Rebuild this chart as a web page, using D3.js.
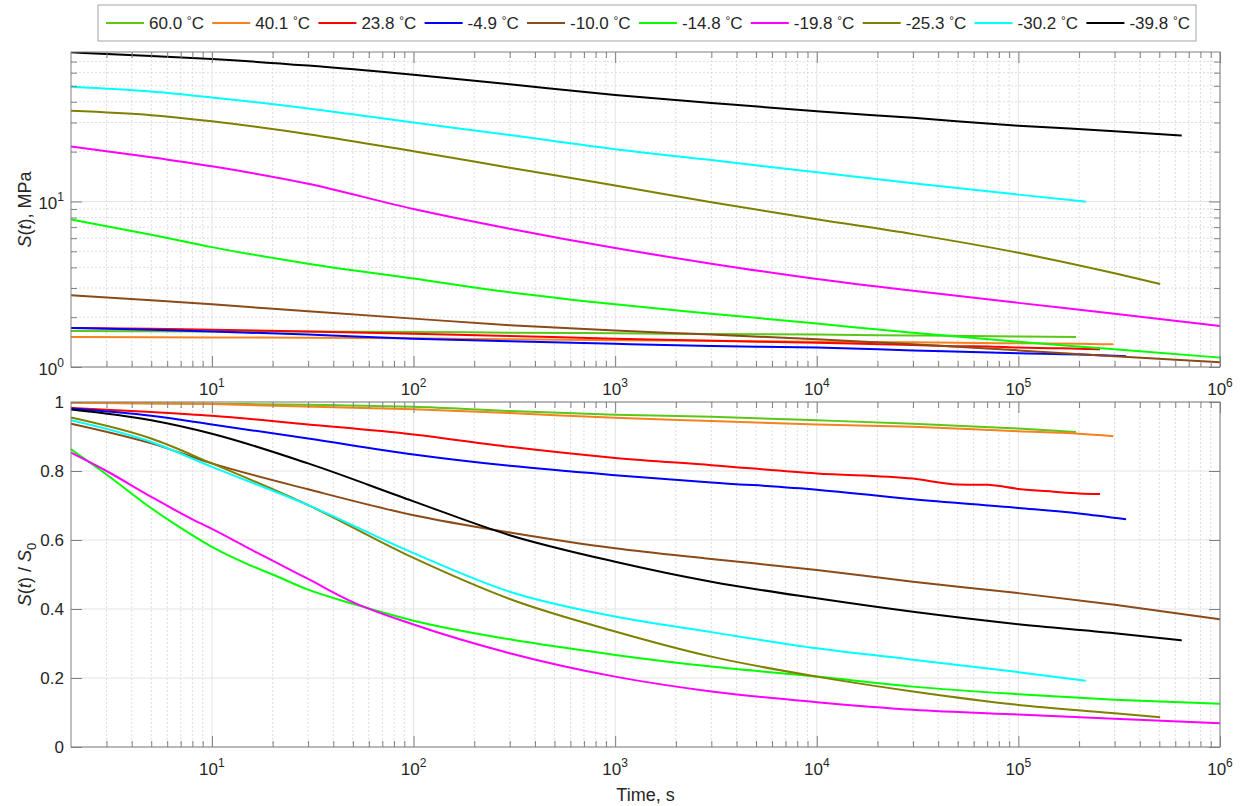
<!DOCTYPE html>
<html>
<head>
<meta charset="utf-8">
<script src="https://cdn.jsdelivr.net/npm/d3@7"></script>
<style>
body { margin: 0; background: #fff; }
svg text { font-family: "Liberation Sans", Arial, Helvetica, sans-serif; fill: #262626; }
</style>
</head>
<body>
<div id="chart"></div>
<script>
// legend labels (deg C) and line colours
var tempLabels = ["60.0", "40.1", "23.8", "-4.9", "-10.0", "-14.8", "-19.8", "-25.3", "-30.2", "-39.8"];
var lineColors = ["#5bc818", "#f5821f", "#ff0000", "#0000ff", "#8b4a16", "#00ff00", "#ff00ff", "#808000", "#00ffff", "#000000"];

// time, s for the S(t) curves (one array per test)
var timeS = [
    [2, 10, 100, 300, 1e3, 3e3, 1e4, 3e4, 1e5, 1.93e5],
    [2, 10, 100, 300, 1e3, 3e3, 1e4, 3e4, 1e5, 2e5, 2.96e5],
    [2, 5, 10, 30, 100, 300, 1e3, 3e3, 1e4, 3e4, 5e4, 7e4, 1e5, 1.5e5, 2e5, 2.54e5],
    [2, 5, 10, 30, 100, 300, 1e3, 3e3, 1e4, 3e4, 1e5, 2e5, 3.42e5],
    [2, 5, 10, 30, 100, 300, 1e3, 3e3, 1e4, 3e4, 1e5, 3e5, 1e6],
    [2, 5, 10, 30, 100, 300, 1e3, 3e3, 1e4, 3e4, 1e5, 3e5, 1e6],
    [2, 5, 10, 30, 100, 300, 1e3, 3e3, 1e4, 3e4, 1e5, 3e5, 1e6],
    [2, 5, 10, 30, 100, 300, 1e3, 3e3, 1e4, 3e4, 1e5, 3e5, 5.05e5],
    [2, 5, 10, 30, 100, 300, 1e3, 3e3, 1e4, 3e4, 1e5, 2.16e5],
    [2, 5, 10, 30, 100, 300, 1e3, 3e3, 1e4, 3e4, 1e5, 3e5, 6.46e5]
];

// S(t), MPa
var seriesS = [
    [1.65, 1.64, 1.63, 1.61, 1.60, 1.58, 1.57, 1.55, 1.53, 1.52],
    [1.52, 1.51, 1.49, 1.47, 1.45, 1.44, 1.42, 1.41, 1.39, 1.38, 1.37],
    [1.72, 1.70, 1.68, 1.64, 1.59, 1.54, 1.48, 1.44, 1.40, 1.36, 1.335, 1.33, 1.31, 1.30, 1.29, 1.28],
    [1.72, 1.68, 1.64, 1.57, 1.48, 1.43, 1.38, 1.34, 1.31, 1.26, 1.21, 1.19, 1.16],
    [2.71, 2.53, 2.39, 2.17, 1.96, 1.79, 1.66, 1.57, 1.47, 1.37, 1.26, 1.16, 1.07],
    [7.79, 6.30, 5.30, 4.21, 3.42, 2.83, 2.39, 2.10, 1.83, 1.61, 1.42, 1.28, 1.14],
    [21.5, 18.5, 16.3, 12.8, 9.0, 6.84, 5.23, 4.21, 3.40, 2.89, 2.44, 2.10, 1.77],
    [35.3, 33.2, 30.5, 25.5, 20.1, 16.0, 12.5, 9.9, 7.8, 6.35, 4.9, 3.68, 3.17],
    [49.4, 46.2, 42.5, 36.5, 30.0, 25.2, 20.7, 17.8, 15.0, 12.9, 11.0, 9.97],
    [79.6, 75.7, 72.6, 66.2, 58.2, 51.0, 44.0, 39.4, 35.1, 32.0, 28.7, 26.6, 25.0]
];

// time, s for the S(t)/S0 curves
var timeRatio = [
    [2, 10, 100, 300, 1e3, 3e3, 1e4, 3e4, 1e5, 1.93e5],
    [2, 10, 100, 300, 1e3, 3e3, 1e4, 3e4, 1e5, 2e5, 2.96e5],
    [2, 5, 10, 30, 100, 300, 1e3, 3e3, 1e4, 3e4, 5e4, 7e4, 1e5, 1.5e5, 2e5, 2.54e5],
    [2, 5, 10, 30, 100, 300, 1e3, 3e3, 1e4, 3e4, 1e5, 2e5, 3.42e5],
    [2, 5, 10, 30, 100, 300, 1e3, 3e3, 1e4, 3e4, 1e5, 3e5, 1e6],
    [2, 3, 5, 7, 10, 15, 20, 30, 50, 100, 300, 1e3, 3e3, 1e4, 3e4, 1e5, 3e5, 1e6],
    [2, 3, 5, 8, 10, 15, 20, 30, 50, 100, 300, 1e3, 3e3, 1e4, 3e4, 1e5, 3e5, 1e6],
    [2, 5, 10, 30, 100, 300, 1e3, 3e3, 1e4, 3e4, 1e5, 3e5, 5.05e5],
    [2, 5, 10, 30, 100, 300, 1e3, 3e3, 1e4, 3e4, 1e5, 2.16e5],
    [2, 5, 10, 30, 100, 300, 1e3, 3e3, 1e4, 3e4, 1e5, 3e5, 6.46e5]
];

// S(t) / S0
var seriesRatio = [
    [0.998, 0.995, 0.986, 0.974, 0.963, 0.957, 0.947, 0.937, 0.923, 0.913],
    [0.998, 0.994, 0.979, 0.968, 0.954, 0.945, 0.935, 0.928, 0.915, 0.908, 0.901],
    [0.983, 0.971, 0.960, 0.935, 0.906, 0.870, 0.838, 0.817, 0.793, 0.778, 0.761, 0.760, 0.748, 0.740, 0.735, 0.733],
    [0.981, 0.960, 0.935, 0.894, 0.848, 0.815, 0.788, 0.767, 0.746, 0.718, 0.693, 0.677, 0.660],
    [0.937, 0.880, 0.822, 0.747, 0.672, 0.622, 0.576, 0.545, 0.513, 0.479, 0.446, 0.412, 0.370],
    [0.863, 0.790, 0.692, 0.635, 0.580, 0.530, 0.500, 0.456, 0.415, 0.366, 0.312, 0.267, 0.233, 0.204, 0.175, 0.153, 0.137, 0.125],
    [0.853, 0.800, 0.725, 0.660, 0.632, 0.578, 0.540, 0.487, 0.420, 0.355, 0.272, 0.204, 0.161, 0.130, 0.108, 0.094, 0.082, 0.069],
    [0.955, 0.894, 0.822, 0.701, 0.548, 0.429, 0.335, 0.262, 0.204, 0.161, 0.122, 0.098, 0.086],
    [0.947, 0.884, 0.812, 0.701, 0.562, 0.450, 0.378, 0.333, 0.286, 0.253, 0.217, 0.192],
    [0.978, 0.947, 0.908, 0.822, 0.712, 0.614, 0.537, 0.479, 0.431, 0.392, 0.356, 0.330, 0.309]
];

var xTickExp = [1, 2, 3, 4, 5, 6];
var yTopTickExp = [0, 1];
var yBotTicks = [0, 0.2, 0.4, 0.6, 0.8, 1];

// page layout
var svgWidth = 1241;
var svgHeight = 806;
var plotLeft = 71;
var plotRight = 1220;
var topPanel = { top: 52, bottom: 367 };
var botPanel = { top: 402, bottom: 747 };

var axisColor = "#808080";
var majorTick = 11;
var minorTick = 6;
var tickFont = 17;
var expFont = 12;
var labelFont = 18;

var svg = d3.select("#chart")
    .append("svg")
    .attr("width", svgWidth)
    .attr("height", svgHeight);

var xScale = d3.scaleLog().domain([2, 1e6]).range([plotLeft, plotRight]);
var yTopScale = d3.scaleLog().domain([1, 80]).range([topPanel.bottom, topPanel.top]);
var yBotScale = d3.scaleLinear().domain([0, 1]).range([botPanel.bottom, botPanel.top]);

// minor tick values for the log axes
var xMinor = [];
for (var e = 0; e <= 5; e++) {
    for (var k = 2; k <= 9; k++) {
        var v = k * Math.pow(10, e);
        if (v > 2 && v < 1e6) xMinor.push(v);
    }
}
var xMajor = xTickExp.map(d => Math.pow(10, d));
var yTopMinor = [2, 3, 4, 5, 6, 7, 8, 9, 20, 30, 40, 50, 60, 70];
var yTopMajor = yTopTickExp.map(d => Math.pow(10, d));

function powLabel(sel, exp) {
    sel.append("tspan").text("10");
    sel.append("tspan").attr("dy", -8).attr("font-size", expFont).text(exp);
}

function drawPanel(panel, yScale, yMajor, yMinor, name) {
    var g = svg.append("g");
    var w = plotRight - plotLeft;

    svg.append("clipPath").attr("id", "clip-" + name)
        .append("rect")
        .attr("x", plotLeft).attr("y", panel.top)
        .attr("width", w).attr("height", panel.bottom - panel.top);

    // minor grid (dotted)
    g.selectAll(".xminor").data(xMinor).enter().append("line")
        .attr("x1", d => xScale(d)).attr("x2", d => xScale(d))
        .attr("y1", panel.top).attr("y2", panel.bottom)
        .attr("stroke", "#d4d4d4").attr("stroke-width", 0.8)
        .attr("stroke-dasharray", "2,2");
    g.selectAll(".yminor").data(yMinor).enter().append("line")
        .attr("x1", plotLeft).attr("x2", plotRight)
        .attr("y1", d => yScale(d)).attr("y2", d => yScale(d))
        .attr("stroke", "#d4d4d4").attr("stroke-width", 0.8)
        .attr("stroke-dasharray", "2,2");

    // major grid
    g.selectAll(".xmajor").data(xMajor).enter().append("line")
        .attr("x1", d => xScale(d)).attr("x2", d => xScale(d))
        .attr("y1", panel.top).attr("y2", panel.bottom)
        .attr("stroke", "#e3e3e3").attr("stroke-width", 1);
    g.selectAll(".ymajor").data(yMajor).enter().append("line")
        .attr("x1", plotLeft).attr("x2", plotRight)
        .attr("y1", d => yScale(d)).attr("y2", d => yScale(d))
        .attr("stroke", "#e3e3e3").attr("stroke-width", 1);

    // ticks on all four sides, pointing inward
    var axG = svg.append("g").attr("class", "axes");
    var axes = [
        [d3.axisBottom(xScale).tickValues(xMajor).tickSize(-majorTick), `translate(0,${panel.bottom})`],
        [d3.axisBottom(xScale).tickValues(xMinor).tickSize(-minorTick), `translate(0,${panel.bottom})`],
        [d3.axisTop(xScale).tickValues(xMajor).tickSize(-majorTick), `translate(0,${panel.top})`],
        [d3.axisTop(xScale).tickValues(xMinor).tickSize(-minorTick), `translate(0,${panel.top})`],
        [d3.axisLeft(yScale).tickValues(yMajor).tickSize(-majorTick), `translate(${plotLeft},0)`],
        [d3.axisLeft(yScale).tickValues(yMinor).tickSize(-minorTick), `translate(${plotLeft},0)`],
        [d3.axisRight(yScale).tickValues(yMajor).tickSize(-majorTick), `translate(${plotRight},0)`],
        [d3.axisRight(yScale).tickValues(yMinor).tickSize(-minorTick), `translate(${plotRight},0)`]
    ];
    axes.forEach(function (a) {
        var ag = axG.append("g").attr("transform", a[1]).call(a[0].tickFormat(""));
        ag.select(".domain").remove();
        ag.selectAll("line").attr("stroke", axisColor).attr("stroke-width", 1);
    });

    // box
    svg.append("rect")
        .attr("x", plotLeft).attr("y", panel.top)
        .attr("width", w).attr("height", panel.bottom - panel.top)
        .attr("fill", "none").attr("stroke", axisColor).attr("stroke-width", 1);

    // x tick labels
    svg.append("g").selectAll("text").data(xTickExp).enter().append("text")
        .attr("x", d => xScale(Math.pow(10, d)))
        .attr("y", panel.bottom + 28)
        .attr("text-anchor", "middle")
        .attr("font-size", tickFont)
        .each(function (d) { powLabel(d3.select(this), d); });

    return g;
}

function drawSeries(g, yScale, times, values, name) {
    var line = d3.line()
        .x(d => xScale(d[0]))
        .y(d => yScale(d[1]))
        .curve(d3.curveMonotoneX);

    g.append("g").attr("clip-path", `url(#clip-${name})`)
        .selectAll("path")
        .data(values.map((vals, i) => vals.map((v, j) => [times[i][j], v])))
        .enter()
        .append("path")
        .attr("d", line)
        .attr("fill", "none")
        .attr("stroke", (d, i) => lineColors[i])
        .attr("stroke-width", 2)
        .attr("stroke-linejoin", "round");
}

// top panel: S(t)
var topG = drawPanel(topPanel, yTopScale, yTopMajor, yTopMinor, "top");
drawSeries(topG, yTopScale, timeS, seriesS, "top");

svg.append("g").selectAll("text").data(yTopTickExp).enter().append("text")
    .attr("x", 64)
    .attr("y", d => yTopScale(Math.pow(10, d)) + 8)
    .attr("text-anchor", "end")
    .attr("font-size", tickFont)
    .each(function (d) { powLabel(d3.select(this), d); });

var topLabel = svg.append("text")
    .attr("transform", `translate(31,${(topPanel.top + topPanel.bottom) / 2}) rotate(-90)`)
    .attr("text-anchor", "middle")
    .attr("font-size", labelFont);
topLabel.append("tspan").attr("font-style", "italic").text("S");
topLabel.append("tspan").text("(");
topLabel.append("tspan").attr("font-style", "italic").text("t");
topLabel.append("tspan").text("), MPa");

// bottom panel: S(t)/S0
var botG = drawPanel(botPanel, yBotScale, yBotTicks, [], "bot");
drawSeries(botG, yBotScale, timeRatio, seriesRatio, "bot");

svg.append("g").selectAll("text").data(yBotTicks).enter().append("text")
    .attr("x", 64)
    .attr("y", d => yBotScale(d) + 6)
    .attr("text-anchor", "end")
    .attr("font-size", tickFont)
    .text(d => d3.format("~g")(d));

var botLabel = svg.append("text")
    .attr("transform", `translate(31,${(botPanel.top + botPanel.bottom) / 2}) rotate(-90)`)
    .attr("text-anchor", "middle")
    .attr("font-size", labelFont);
botLabel.append("tspan").attr("font-style", "italic").text("S");
botLabel.append("tspan").text("(");
botLabel.append("tspan").attr("font-style", "italic").text("t");
botLabel.append("tspan").text(") / ");
botLabel.append("tspan").attr("font-style", "italic").text("S");
botLabel.append("tspan").attr("dy", 5).attr("font-size", 13).text("0");

svg.append("text")
    .attr("x", (plotLeft + plotRight) / 2)
    .attr("y", 801)
    .attr("text-anchor", "middle")
    .attr("font-size", labelFont)
    .text("Time, s");

// legend
var legendBox = { x: 98, y: 5, w: 1098, h: 36 };
var legendG = svg.append("g");
legendG.append("rect")
    .attr("x", legendBox.x).attr("y", legendBox.y)
    .attr("width", legendBox.w).attr("height", legendBox.h)
    .attr("fill", "#fff").attr("stroke", "#a6a6a6").attr("stroke-width", 1);

var lineLen = 38;
var textOff = 43;
var items = tempLabels.map(function (lab, i) {
    var t = legendG.append("text")
        .attr("y", legendBox.y + 24)
        .attr("font-size", 17);
    t.append("tspan").text(lab + " ");
    t.append("tspan").attr("dy", -4).attr("font-size", 12).text("°");
    t.append("tspan").attr("dy", 4).text("C");
    return { text: t, width: t.node().getComputedTextLength(), color: lineColors[i] };
});
var startX = legendBox.x + 8;
var endX = legendBox.x + legendBox.w - 6;
var used = d3.sum(items, d => textOff + d.width);
var gap = (endX - startX - used) / (items.length - 1);
var cx = startX;
items.forEach(function (it) {
    legendG.append("line")
        .attr("x1", cx).attr("x2", cx + lineLen)
        .attr("y1", legendBox.y + legendBox.h / 2).attr("y2", legendBox.y + legendBox.h / 2)
        .attr("stroke", it.color).attr("stroke-width", 2);
    it.text.attr("x", cx + textOff);
    cx += textOff + it.width + gap;
});
</script>
</body>
</html>
